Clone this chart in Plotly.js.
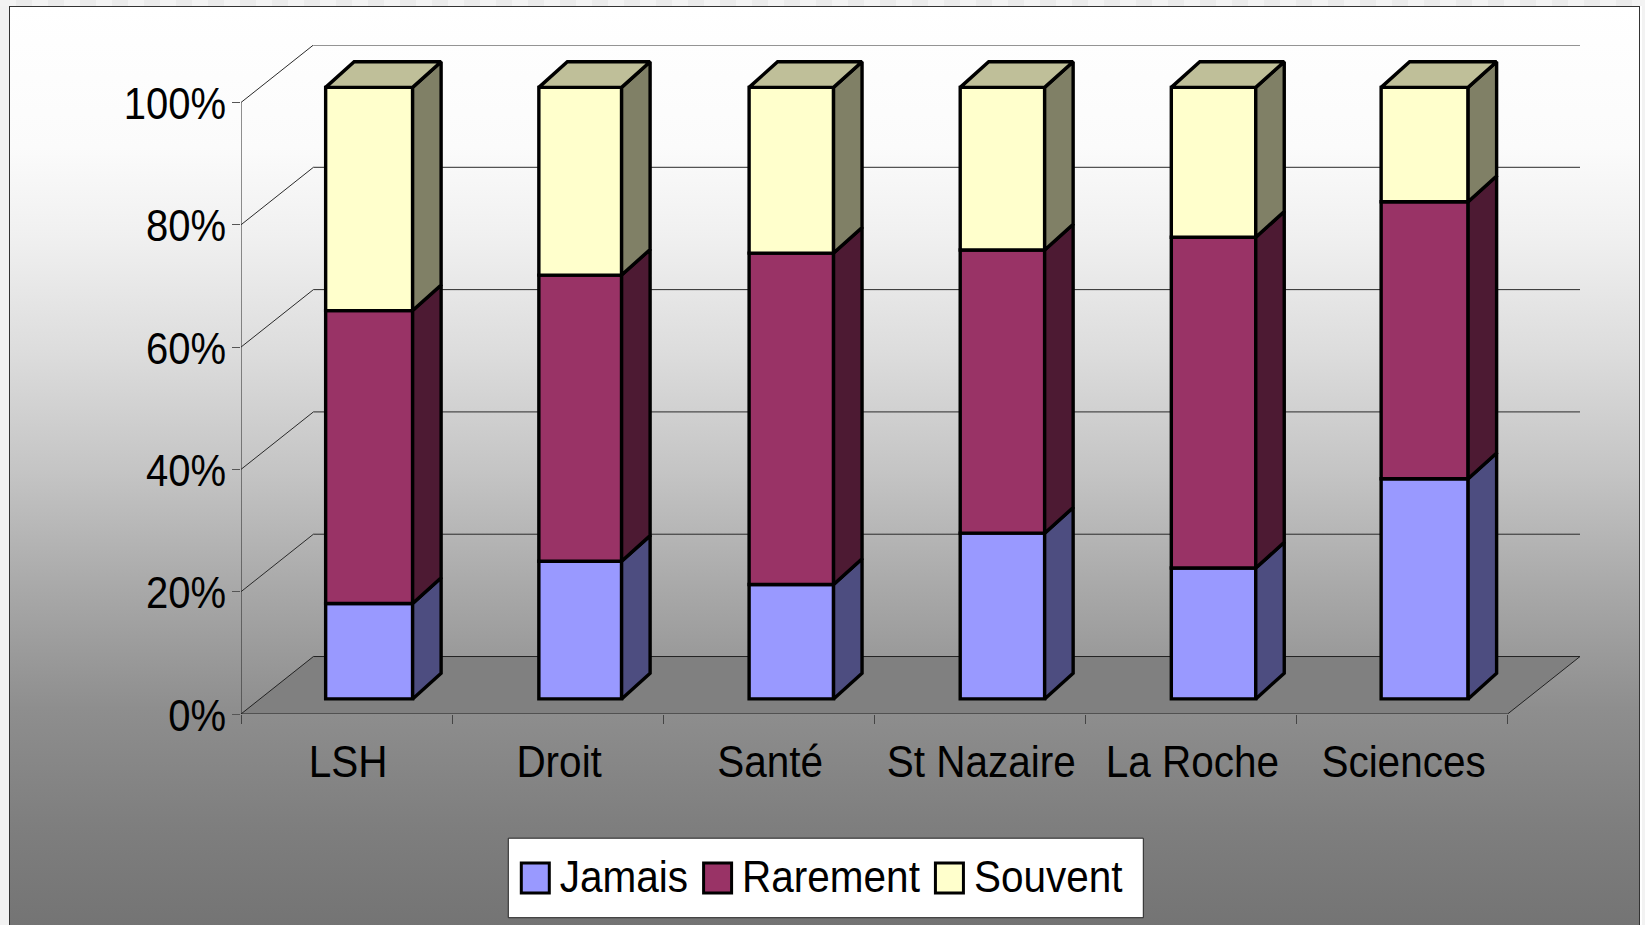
<!DOCTYPE html>
<html><head><meta charset="utf-8">
<script src="https://cdn.plot.ly/plotly-3.0.1.min.js"></script>
<style>
html,body{margin:0;padding:0;width:1645px;height:925px;overflow:hidden;background:#f2f2f2}
#strip{position:absolute;left:0;top:0;width:1645px;height:6px;background:repeating-linear-gradient(90deg,#f3f3f3 0 16px,#ebebeb 16px 32px)}
#frame{position:absolute;left:9px;top:6px;width:1631px;height:925px;box-sizing:border-box;border:1.5px solid #333;border-bottom:none;
background:linear-gradient(180deg,#ffffff 0,#fbfbfb 141px,#f0f0f0 230px,#dcdcdc 348px,#c4c4c4 466px,#a8a8a8 584px,#8e8e8e 702px,#7e7e7e 820px,#747474 919px)}
#edge{position:absolute;left:1640px;top:6px;width:2px;height:919px;background:#fff}
#chart{position:absolute;left:0;top:0;width:1645px;height:925px}
</style></head><body>
<div id="strip"></div><div id="frame"></div><div id="edge"></div><div id="chart"></div>
<script>
const categories = ['LSH','Droit','Santé','St Nazaire','La Roche','Sciences'];
const jamais   = [15.6,22.5,18.7,27.1,21.4,36.0];
const rarement = [47.9,46.8,54.2,46.3,54.1,45.3];
const souvent  = [36.5,30.7,27.1,26.6,24.5,18.7];
const seriesNames = ['Jamais','Rarement','Souvent'];
const seriesValues = [jamais,rarement,souvent];
const frontColors = ['#9999ff','#993366','#ffffcc'];
const sideColors  = ['#4d4d80','#4d1a33','#808066'];
const topColor = '#bfbf99';
const yTicks = [0,20,40,60,80,100];
const barWidths = [0.412,0.392,0.40,0.40,0.40,0.412];

// oblique projection, in axis units
const wallDx = 0.343, wallDy = 9.4;
const barLift = 2.47, barShift = 0.607, barDx = 0.135, barDy = 4.2;
const edge = 3.4;
const nCat = categories.length;
const xMax = nCat + wallDx, yMax = 100 + wallDy;
const centers = categories.map((c,i)=>i+barShift);

const barTraces = [], sideTraces = [];
const cum = categories.map(()=>0);
seriesValues.forEach((vals,s)=>{
  const base = vals.map((v,i)=>cum[i]+barLift);
  barTraces.push({type:'bar',name:seriesNames[s],x:centers,y:vals,base:base,width:barWidths,
    marker:{color:frontColors[s],line:{color:'#000',width:edge}},hoverinfo:'skip'});
  const sx=[],sy=[];
  vals.forEach((v,i)=>{
    const r=centers[i]+barWidths[i]/2, b=base[i];
    sx.push(r,r+barDx,r+barDx,r,r,null);
    sy.push(b,b+barDy,b+v+barDy,b+v,b,null);
    cum[i]+=v;
  });
  sideTraces.push({type:'scatter',mode:'lines',x:sx,y:sy,fill:'toself',fillcolor:sideColors[s],
    line:{color:'#000',width:edge},showlegend:false,hoverinfo:'skip'});
});
const tx=[],ty=[];
centers.forEach((c,i)=>{
  const l=c-barWidths[i]/2,r=c+barWidths[i]/2,t=cum[i]+barLift;
  tx.push(l,l+barDx,r+barDx,r,l,null);
  ty.push(t,t+barDy,t+barDy,t,t,null);
});
const topTrace={type:'scatter',mode:'lines',x:tx,y:ty,fill:'toself',fillcolor:topColor,
  line:{color:'#000',width:edge},showlegend:false,hoverinfo:'skip'};

const gridLine={color:'#2a2a2a',width:1};
const shapes=[
  {type:'rect',xref:'paper',yref:'paper',x0:(508-240.7)/1339,x1:(1143-240.7)/1339,
   y0:(714.3-838.5)/669,y1:(714.3-918)/669,fillcolor:'#fff',line:{color:'#222',width:1},layer:'below'},
  {type:'path',xref:'x',yref:'y',layer:'below',fillcolor:'#808080',line:{color:'#222',width:1},
   path:`M0,0L${wallDx},${wallDy}L${xMax},${wallDy}L${nCat},0Z`},
  {type:'line',xref:'x',yref:'y',layer:'below',x0:0,x1:0,y0:0,y1:100,line:{color:'#222',width:1}}
];
yTicks.slice(1).forEach(v=>{
  shapes.push({type:'path',xref:'x',yref:'y',layer:'below',line:gridLine,
    path:`M0,${v}L${wallDx},${v+wallDy}L${xMax},${v+wallDy}`});
});

const font={family:'"Liberation Sans",Arial,sans-serif',size:40,color:'#000'};
const layout={
  width:1645,height:925,
  margin:{l:240.7,r:65.3,t:45.3,b:210.7,pad:0},
  paper_bgcolor:'rgba(0,0,0,0)',plot_bgcolor:'rgba(0,0,0,0)',
  barmode:'overlay',showlegend:true,font:font,shapes:shapes,
  xaxis:{type:'linear',range:[0,xMax],tickmode:'array',
    tickvals:categories.map((c,i)=>i+0.507),ticktext:categories,ticks:'',showgrid:false,zeroline:false,showline:false,
    ticklabelstandoff:22,tickfont:font,
    minor:{tickmode:'array',tickvals:categories.map((c,i)=>i).concat([nCat]),ticks:'outside',ticklen:9,tickcolor:'#444',tickwidth:1,showgrid:false}},
  yaxis:{range:[0,yMax],tickmode:'array',tickvals:yTicks,ticktext:yTicks.map(v=>v+'%'),
    ticks:'outside',ticklen:8,tickcolor:'#555',tickwidth:1,showgrid:false,zeroline:false,showline:false,
    ticklabelstandoff:-2,tickfont:font},
  legend:{orientation:'h',x:(510.5-240.7)/1339,y:(714.3-845.5)/669,xanchor:'left',yanchor:'top',
    bgcolor:'rgba(0,0,0,0)',borderwidth:0,itemwidth:39,font:Object.assign({},font,{size:40.5}),traceorder:'normal',itemclick:false,itemdoubleclick:false}
};
// The reference's lettering is taller and narrower than the installed face at its natural proportions
function condense(selector,dy,stretch){
  document.querySelectorAll(selector).forEach(t=>{
    const len=t.getComputedTextLength()*stretch;
    t.style.fontSize='44px';
    t.setAttribute('textLength',len.toFixed(1));
    t.setAttribute('lengthAdjust','spacingAndGlyphs');
    t.setAttribute('y',(parseFloat(t.getAttribute('y')||0)+dy).toFixed(1));
  });
}
const gd=document.getElementById('chart');
Plotly.newPlot(gd,[...barTraces,...sideTraces,topTrace],layout,{displayModeBar:false,staticPlot:true}).then(()=>{
  gd.querySelectorAll('.legendpoints path').forEach(p=>{
    p.setAttribute('d','M14,15H-14V-15H14Z');
    p.style.strokeWidth='3px';
  });
  condense('.xtick text',0,1.012);
  condense('.ytick text',2.5,1);
  condense('.legendtext',-2,1);
});
</script>
</body></html>
